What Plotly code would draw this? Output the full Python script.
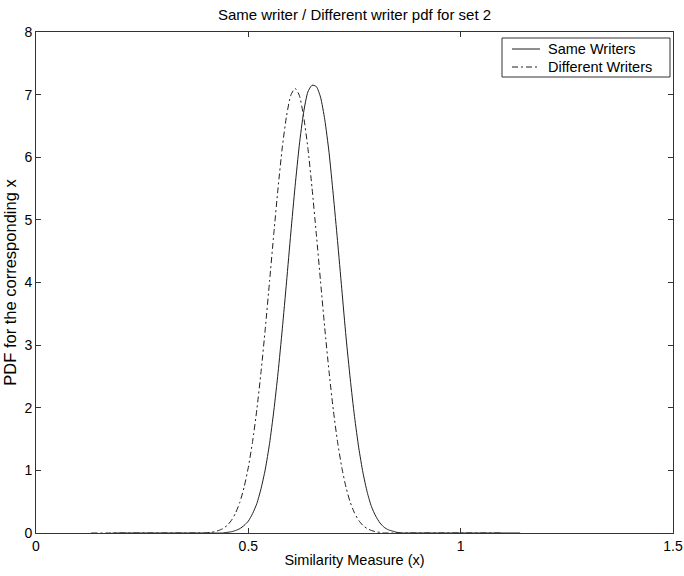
import plotly.graph_objects as go

# Same Writers (solid)
same_x = [0.18, 0.40, 0.44, 0.45, 0.46, 0.47, 0.48, 0.49, 0.50, 0.51, 0.52, 0.53, 0.54,
          0.55, 0.56, 0.57, 0.58, 0.59, 0.60, 0.61, 0.62, 0.63, 0.64, 0.65, 0.66,
          0.67, 0.68, 0.69, 0.70, 0.71, 0.72, 0.73, 0.74, 0.75, 0.76, 0.77, 0.78,
          0.79, 0.80, 0.81, 0.82, 0.83, 0.84, 0.85, 0.86, 0.87, 1.14]
same_y = [0.00, 0.00, 0.00, 0.01, 0.02, 0.04, 0.07, 0.12, 0.19, 0.31, 0.47, 0.71, 1.02,
          1.43, 1.95, 2.56, 3.26, 4.01, 4.79, 5.53, 6.19, 6.71, 7.04, 7.15, 7.13,
          6.96, 6.60, 6.08, 5.40, 4.67, 3.90, 3.13, 2.46, 1.86, 1.36, 0.96, 0.65,
          0.42, 0.27, 0.16, 0.09, 0.05, 0.03, 0.01, 0.00, 0.00, 0.00]

# Different Writers (dash-dot)
diff_x = [0.13, 0.38, 0.40, 0.41, 0.42, 0.43, 0.44, 0.45, 0.46, 0.47, 0.48, 0.49, 0.50,
          0.51, 0.52, 0.53, 0.54, 0.55, 0.56, 0.57, 0.58, 0.59, 0.60, 0.61, 0.62,
          0.63, 0.64, 0.65, 0.66, 0.67, 0.68, 0.69, 0.70, 0.71, 0.72, 0.73, 0.74,
          0.75, 0.76, 0.77, 0.78, 0.79, 0.80, 0.81, 0.82, 0.83, 1.10]
diff_y = [0.00, 0.00, 0.00, 0.01, 0.02, 0.04, 0.07, 0.12, 0.20, 0.32, 0.49, 0.73, 1.05,
          1.46, 1.97, 2.58, 3.27, 4.02, 4.78, 5.51, 6.16, 6.66, 6.99, 7.10, 6.99,
          6.66, 6.16, 5.51, 4.78, 4.02, 3.27, 2.58, 1.97, 1.46, 1.05, 0.73, 0.49,
          0.32, 0.20, 0.12, 0.07, 0.04, 0.02, 0.01, 0.00, 0.00, 0.00]

series_names = ["Same Writers", "Different Writers"]
x_ticks = [0, 0.5, 1, 1.5]
x_tick_labels = ["0", "0.5", "1", "1.5"]
y_ticks = [0, 1, 2, 3, 4, 5, 6, 7, 8]

font_family = "Liberation Sans, Arial, sans-serif"
fs = 14.5
line_color = "#1e1e1e"
dashes = ["solid", "6px,3px,2px,3px"]

fig = go.Figure()
for xs, ys, name, dash in zip([same_x, diff_x], [same_y, diff_y], series_names, dashes):
    fig.add_trace(go.Scatter(x=xs, y=ys, mode="lines", name=name, showlegend=False,
                             line=dict(color=line_color, width=1, dash=dash,
                                       shape="spline", smoothing=0.6)))

axis_common = dict(showgrid=False, zeroline=False, ticks="inside", ticklen=5,
                   tickcolor="#333", tickwidth=1, showline=True, linecolor="#333",
                   linewidth=1, mirror="ticks", automargin=False,
                   tickfont=dict(family=font_family, size=14, color="black"))

fig.update_xaxes(range=[0, 1.5], tickvals=x_ticks, ticktext=x_tick_labels,
                 title=dict(text="Similarity Measure (x)", standoff=2,
                            font=dict(family=font_family, size=fs, color="black")),
                 **axis_common)
fig.update_yaxes(range=[0, 8], tickvals=y_ticks,
                 title=dict(text="PDF for the corresponding x", standoff=3,
                            font=dict(family=font_family, size=16.5, color="black")),
                 **axis_common)

# Legend box drawn in plot-area (paper) coordinates, MATLAB-style
L, R, T, B = 36, 673, 32, 533
def px(x):
    return (x - L) / (R - L)
def py(y):
    return (B - y) / (B - T)

fig.add_shape(type="rect", xref="paper", yref="paper",
              x0=px(502), x1=px(670), y0=py(77), y1=py(38),
              line=dict(color="#333", width=1), fillcolor="white", layer="above")
for i, (name, dash) in enumerate(zip(series_names, dashes)):
    yy = [49, 67][i]
    fig.add_shape(type="line", xref="paper", yref="paper",
                  x0=px(512), x1=px(540), y0=py(yy), y1=py(yy),
                  line=dict(color=line_color, width=1, dash=dash), layer="above")
    fig.add_annotation(text=name, xref="paper", yref="paper", x=px(546), y=py(yy),
                       xanchor="left", yanchor="middle", showarrow=False,
                       font=dict(family=font_family, size=fs, color="black"))

fig.update_layout(
    width=684, height=576,
    margin=dict(l=L, r=684 - R, t=T, b=576 - B, autoexpand=False),
    paper_bgcolor="white", plot_bgcolor="white",
    title=dict(text="Same writer / Different writer pdf for set 2",
               x=(L + R) / 2 / 684, xanchor="center", y=1 - 15 / 576, yanchor="middle",
               font=dict(family=font_family, size=15, color="black")),
    showlegend=False,
)

fig.write_html("out.html", config={"displayModeBar": False},
               post_script="document.body.style.margin='0';")
